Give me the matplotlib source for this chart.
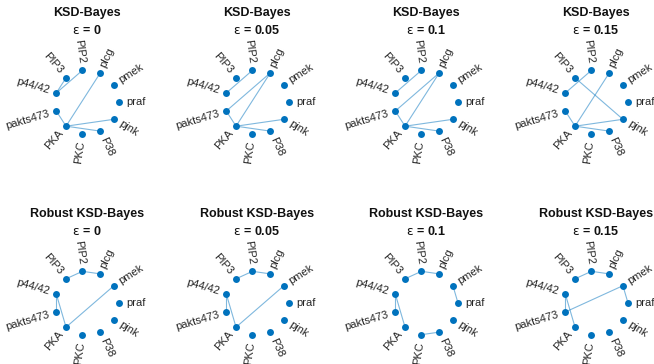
import numpy as np
import matplotlib
matplotlib.use("Agg")
import matplotlib.pyplot as plt

plt.rcParams['font.family'] = ['Liberation Sans', 'DejaVu Sans']

# Proteins in the Sachs signalling network (circle layout order)
nodes = ["praf", "pmek", "plcg", "PIP2", "PIP3", "p44/42",
         "pakts473", "PKA", "PKC", "P38", "pjnk"]

epsilons = ["0", "0.05", "0.1", "0.15"]
methods = ["KSD-Bayes", "Robust KSD-Bayes"]

# Learned edges for each method and contamination level
ksd_eps0 = [("p44/42", "PIP3"), ("p44/42", "PIP2"), ("pakts473", "PKA"),
            ("PKA", "plcg"), ("PKA", "pjnk"), ("PKA", "P38")]
ksd_eps005 = [("PIP2", "p44/42"), ("plcg", "pakts473"), ("plcg", "PKA"),
              ("pakts473", "PKA"), ("PKA", "pjnk"), ("PKA", "P38")]
ksd_eps01 = [("PIP2", "p44/42"), ("plcg", "pakts473"), ("plcg", "PKA"),
             ("pakts473", "PKA"), ("PKA", "pjnk"), ("PKA", "P38")]
ksd_eps015 = [("PIP2", "p44/42"), ("PIP3", "pjnk"), ("plcg", "PKA"),
              ("pakts473", "PKA"), ("PKA", "pjnk"), ("PKA", "P38")]

robust_eps0 = [("PIP3", "PIP2"), ("PIP2", "plcg"), ("p44/42", "pakts473"),
               ("p44/42", "PKA"), ("PKA", "pmek")]
robust_eps005 = [("PIP3", "PIP2"), ("PIP2", "plcg"), ("p44/42", "pakts473"),
                 ("p44/42", "PKA"), ("PKA", "pmek")]
robust_eps01 = [("PIP3", "PIP2"), ("PIP2", "plcg"), ("pmek", "praf"),
                ("p44/42", "pakts473"), ("p44/42", "PKA"), ("PKC", "P38")]
robust_eps015 = [("PIP3", "PIP2"), ("PIP2", "plcg"), ("pmek", "praf"),
                 ("p44/42", "pakts473"), ("p44/42", "PKA"), ("pmek", "pakts473")]

edge_sets = [[ksd_eps0, ksd_eps005, ksd_eps01, ksd_eps015],
             [robust_eps0, robust_eps005, robust_eps01, robust_eps015]]

W, H = 654, 364
fig = plt.figure(figsize=(W / 100, H / 100), dpi=100)

node_color = "#0072BD"
edge_color = "#0072BD"
label_color = "#262626"

col_cx = [87, 257, 426, 596]
row_cy = [102, 303]
box = 160  # axes size in pixels; radius 1 maps to 32 px
lim = 2.5

n = len(nodes)
angles = 2 * np.pi * np.arange(n) / n
pos = {name: (np.cos(a), np.sin(a)) for name, a in zip(nodes, angles)}

for r, method in enumerate(methods):
    for c, eps in enumerate(epsilons):
        cx, cy = col_cx[c], row_cy[r]
        ax = fig.add_axes([(cx - box / 2) / W, 1 - (cy + box / 2) / H,
                           box / W, box / H])
        ax.set_xlim(-lim, lim)
        ax.set_ylim(-lim, lim)
        ax.set_aspect("equal")
        ax.axis("off")

        for a, b in edge_sets[r][c]:
            (x0, y0), (x1, y1) = pos[a], pos[b]
            ax.plot([x0, x1], [y0, y1], color=edge_color, alpha=0.5,
                    lw=0.8, zorder=1, solid_capstyle="butt")

        xs = [pos[k][0] for k in nodes]
        ys = [pos[k][1] for k in nodes]
        ax.plot(xs, ys, "o", color=node_color, ms=5.0, mec="none", zorder=2)

        off = 1.22
        for name, a in zip(nodes, angles):
            deg = np.degrees(a)
            if 90 < deg < 270:
                rot, ha = deg - 180, "right"
            else:
                rot, ha = (deg if deg <= 90 else deg - 360), "left"
            ax.text(off * np.cos(a), off * np.sin(a), name, rotation=rot,
                    rotation_mode="anchor", ha=ha, va="center",
                    fontsize=8, color=label_color, zorder=3)

        ty = cy - 89
        fig.text(cx / W, 1 - ty / H, method, ha="center", va="center",
                 fontsize=9, fontweight="bold", color="#111111")
        fig.text(cx / W, 1 - (ty + 18) / H, r"$\mathrm{\epsilon}$ = " + eps,
                 ha="center", va="center", fontsize=9, fontweight="bold",
                 color="#111111")

fig.savefig("out.png", dpi=100, facecolor="white")
